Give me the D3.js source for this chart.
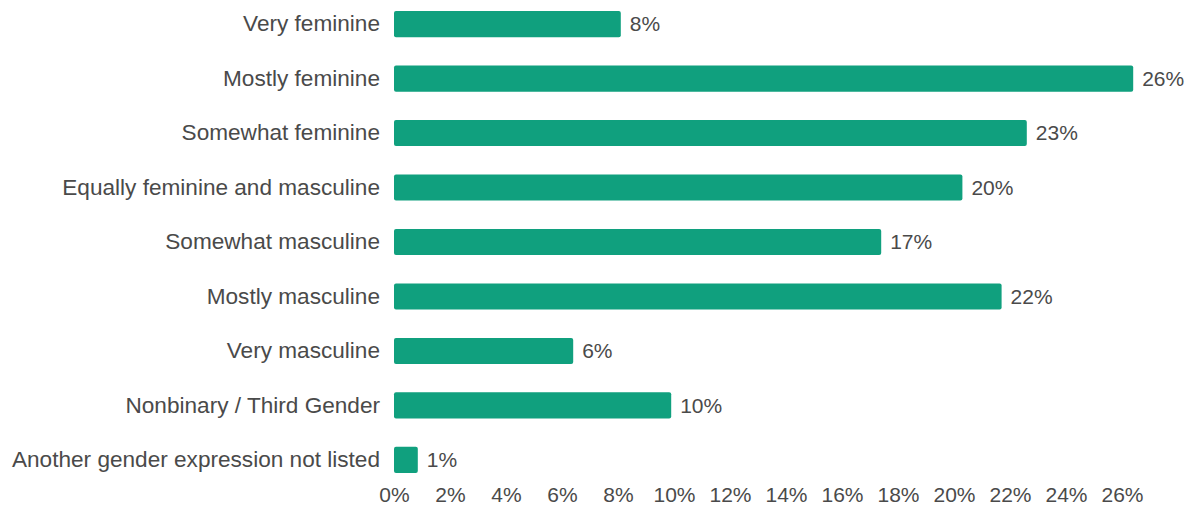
<!DOCTYPE html>
<html>
<head>
<meta charset="utf-8">
<script src="https://cdn.jsdelivr.net/npm/d3@7"></script>
<style>
  html, body { margin: 0; padding: 0; background: #fff; }
  svg { display: block; }
  text { font-family: "Liberation Sans", Arial, Helvetica, sans-serif; fill: #4a4a4a; }
</style>
</head>
<body>
<svg id="chart" width="1191" height="514"></svg>
<script>
const categories = [
  "Very feminine",
  "Mostly feminine",
  "Somewhat feminine",
  "Equally feminine and masculine",
  "Somewhat masculine",
  "Mostly masculine",
  "Very masculine",
  "Nonbinary / Third Gender",
  "Another gender expression not listed"
];
const values = [8.1, 26.4, 22.6, 20.3, 17.4, 21.7, 6.4, 9.9, 0.85];
const tickValues = [0, 2, 4, 6, 8, 10, 12, 14, 16, 18, 20, 22, 24, 26];

const svg = d3.select("#chart");
const fontSize = 21;
const catFontSize = 22.6;

const x = d3.scaleLinear().domain([0, 27]).range([394, 394 + 27 * 28]);
const y = d3.scaleBand().domain(categories).range([11, 473]).paddingInner(0.52).paddingOuter(0);

// bars
svg.append("g").selectAll("rect")
  .data(categories)
  .join("rect")
  .attr("x", x(0))
  .attr("y", d => y(d))
  .attr("width", (d, i) => x(values[i]) - x(0))
  .attr("height", y.bandwidth())
  .attr("rx", 2)
  .attr("fill", "#10a07e");

// value labels
svg.append("g").selectAll("text")
  .data(categories)
  .join("text")
  .attr("x", (d, i) => x(values[i]) + 9)
  .attr("y", d => y(d) + y.bandwidth() / 2)
  .attr("dy", "0.35em")
  .style("font-size", fontSize + "px")
  .text((d, i) => Math.round(values[i]) + "%");

// category axis
const yAxis = svg.append("g")
  .attr("transform", `translate(${x(0) - 14},0)`)
  .call(d3.axisLeft(y).tickSize(0).tickPadding(0));
yAxis.select(".domain").remove();
yAxis.selectAll("text")
  .style("font-size", catFontSize + "px")
  .style("font-family", '"Liberation Sans", Arial, sans-serif')
  .attr("fill", "#4a4a4a");

// x axis
const xAxis = svg.append("g")
  .attr("transform", `translate(0,481)`)
  .call(d3.axisBottom(x).tickValues(tickValues).tickFormat(d => d + "%").tickSize(0).tickPadding(6));
xAxis.select(".domain").remove();
xAxis.selectAll("text")
  .style("font-size", fontSize + "px")
  .style("font-family", '"Liberation Sans", Arial, sans-serif')
  .attr("fill", "#4a4a4a");
</script>
</body>
</html>
